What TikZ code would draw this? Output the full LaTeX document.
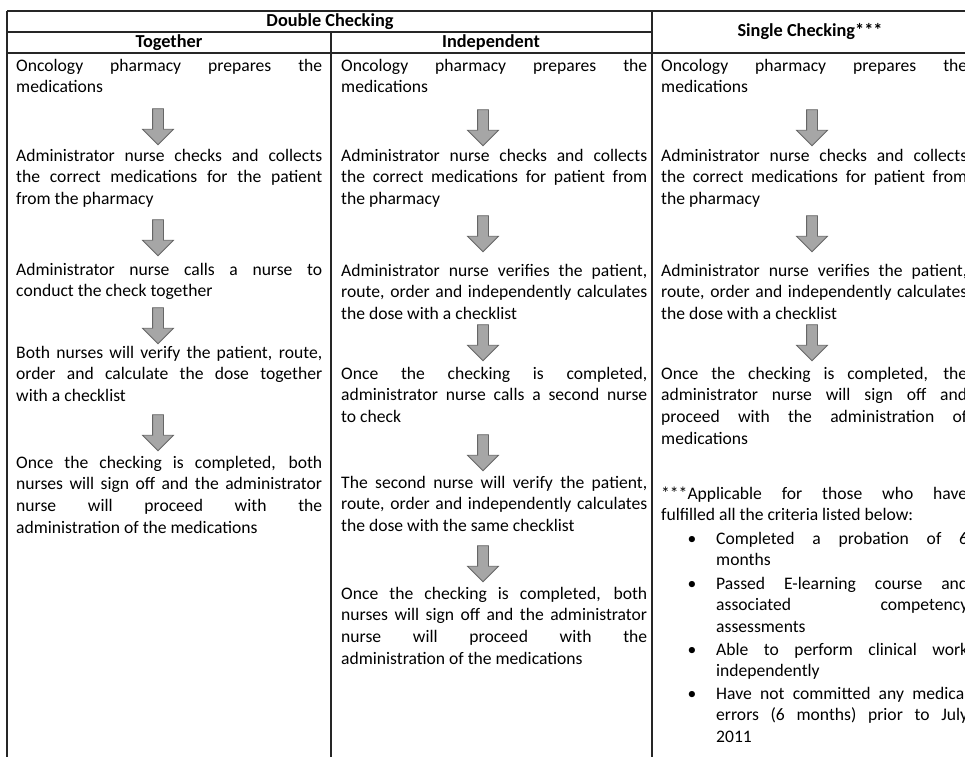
\documentclass[tikz,border=0pt]{standalone}
\usepackage{fontspec}
\setmainfont{Carlito}
\usepackage{tikz}
\usetikzlibrary{shapes.arrows}

\begin{document}
\begin{tikzpicture}[x=1pt,y=-1pt,
    rule/.style={line width=1.3pt,black!85},
    head/.style={inner sep=0,font=\fontsize{18.3}{21.8}\selectfont\bfseries},
    cell/.style={anchor=base west,inner sep=0,text width=306pt,align=justify,font=\fontsize{17.6}{21.8}\selectfont},
    itemcell/.style={cell,text width=252pt},
    dot/.style={anchor=base,inner sep=0,font=\fontsize{17.6}{21.8}\selectfont},
    downarrow/.style={single arrow,draw=black!60,fill=black!35,line width=0.8pt,rotate=-90,
      minimum height=36pt,inner sep=5pt,single arrow head extend=10pt}]
  \useasboundingbox (0,0) rectangle (965,756);
  \clip (0,0) rectangle (965,756);

  \draw[rule] (7,11) -- (970,11);
  \draw[rule] (7,32) -- (652,32);
  \draw[rule] (7,53) -- (970,53);
  \draw[rule] (7,11) -- (7,760);
  \draw[rule] (331,32) -- (331,760);
  \draw[rule] (652,11) -- (652,760);

  \node[head] (dbl) at (330,22) {Double Checking};
  \node[head] (tog) at (169,43) {Together};
  \node[head] (ind) at (491,43) {Independent};
  \node[head] (sgl) at (810,32) {Single Checking***};

  \node[cell] (t1) at (16,71) {Oncology pharmacy prepares the\linebreak medications};
  \node[cell] (t2) at (16,161) {Administrator nurse checks and collects\linebreak the correct medications for the patient\linebreak from the pharmacy};
  \node[cell] (t3) at (16,275) {Administrator nurse calls a nurse to\linebreak conduct the check together};
  \node[cell] (t4) at (16,358) {Both nurses will verify the patient, route,\linebreak order and calculate the dose together\linebreak with a checklist};
  \node[cell] (t5) at (16,468) {Once the checking is completed, both\linebreak nurses will sign off and the administrator\linebreak nurse will proceed with the\linebreak administration of the medications};
  \node[downarrow] (ta1) at (158,124) {};
  \node[downarrow] (ta2) at (158,235) {};
  \node[downarrow] (ta3) at (158,323) {};
  \node[downarrow] (ta4) at (158,430) {};

  \node[cell] (i1) at (341,71) {Oncology pharmacy prepares the\linebreak medications};
  \node[cell] (i2) at (341,161) {Administrator nurse checks and collects\linebreak the correct medications for patient from\linebreak the pharmacy};
  \node[cell] (i3) at (341,276) {Administrator nurse verifies the patient,\linebreak route, order and independently calculates\linebreak the dose with a checklist};
  \node[cell] (i4) at (341,379) {Once the checking is completed,\linebreak administrator nurse calls a second nurse\linebreak to check};
  \node[cell] (i5) at (341,488) {The second nurse will verify the patient,\linebreak route, order and independently calculates\linebreak the dose with the same checklist};
  \node[cell] (i6) at (341,599) {Once the checking is completed, both\linebreak nurses will sign off and the administrator\linebreak nurse will proceed with the\linebreak administration of the medications};
  \node[downarrow] (ia1) at (483,125) {};
  \node[downarrow] (ia2) at (483,231) {};
  \node[downarrow] (ia3) at (483,340) {};
  \node[downarrow] (ia4) at (483,450) {};
  \node[downarrow] (ia5) at (483,561) {};

  \node[cell] (s1) at (661,71) {Oncology pharmacy prepares the\linebreak medications};
  \node[cell] (s2) at (661,161) {Administrator nurse checks and collects\linebreak the correct medications for patient from\linebreak the pharmacy};
  \node[cell] (s3) at (661,276) {Administrator nurse verifies the patient,\linebreak route, order and independently calculates\linebreak the dose with a checklist};
  \node[cell] (s4) at (661,379) {Once the checking is completed, the\linebreak administrator nurse will sign off and\linebreak proceed with the administration of\linebreak medications};
  \node[downarrow] (sa1) at (812,125) {};
  \node[downarrow] (sa2) at (812,231) {};
  \node[downarrow] (sa3) at (812,340) {};

  \node[cell] (note) at (661,499) {***Applicable for those who have\linebreak fulfilled all the criteria listed below:};
  \node[itemcell] (b1) at (716,544) {Completed a probation of 6\linebreak months};
  \node[itemcell] (b2) at (716,589) {Passed E-learning course and\linebreak associated competency\linebreak assessments};
  \node[itemcell] (b3) at (716,655) {Able to perform clinical work\linebreak independently};
  \node[itemcell] (b4) at (716,699) {Have not committed any medical\linebreak errors (6 months) prior to July\linebreak 2011};
  \node[dot] (d1) at (692,544) {\textbullet};
  \node[dot] (d2) at (692,589) {\textbullet};
  \node[dot] (d3) at (692,655) {\textbullet};
  \node[dot] (d4) at (692,699) {\textbullet};
\end{tikzpicture}
\end{document}
